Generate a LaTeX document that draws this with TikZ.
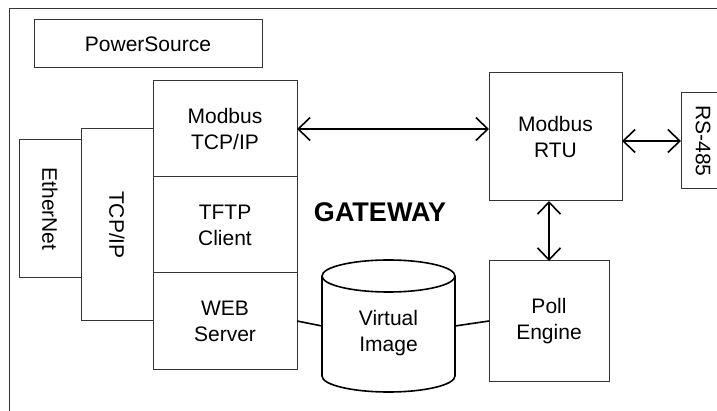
\documentclass[tikz,border=0pt]{standalone}
\usepackage{fontspec}
\setmainfont{Liberation Sans}
\usetikzlibrary{positioning}
\usetikzlibrary{arrows.meta}
\tikzset{>={Straight Barb[length=12pt,width=23pt]}}
\tikzstyle{mybox}=[draw,black!80,text=black,line width=1pt,inner sep=0pt,outer sep=0pt,
                   align=center,font=\fontsize{21}{26}\selectfont]
\tikzstyle{mydrum}=[black,line width=1.6pt]
\tikzstyle{myarrow}=[<->,black,line width=1.6pt]
\tikzstyle{myline}=[black,line width=1.6pt]

\begin{document}
\begin{tikzpicture}[x=1pt,y=-1pt]
  \clip (0,0) rectangle (717,411);
  % frame
  \draw[black!80,line width=1pt] (9,9) rectangle (740,440);

  % power
  \node[mybox,minimum width=228,minimum height=48] (power) at (148,44) {PowerSource};

  % stack
  \node[mybox,minimum width=144,minimum height=96] (tcp) at (225,129) {Modbus\\TCP/IP};
  \node[mybox,minimum width=144,minimum height=96,below=0pt of tcp] (tftp) {TFTP\\Client};
  \node[mybox,minimum width=144,minimum height=96,below=0pt of tftp] (web) {WEB\\Server};

  % layers
  \node[mybox,minimum width=72,minimum height=192] (ip) at (117,225) {\rotatebox{-90}{TCP/IP}};
  \node[mybox,minimum width=62,minimum height=138] (eth) at (50,209) {\rotatebox{-90}{EtherNet}};

  % serial side
  \node[mybox,minimum width=133,minimum height=128] (rtu) at (555.5,137) {Modbus\\RTU};
  \node[mybox,minimum width=44,minimum height=96] (rs) at (703,141) {\rotatebox{-90}{RS-485}};
  \node[mybox,minimum width=120,minimum height=120] (poll) at (549,321) {Poll\\Engine};

  % image
  \node[mybox,draw=none,minimum width=133,minimum height=132,
        label={[yshift=-7pt,align=center,font=\fontsize{21}{26}\selectfont]center:Virtual\\Image}]
        (img) at (388.5,326) {};
  \draw[mydrum] ([yshift=-16pt]img.north west) -- ([yshift=16pt]img.south west)
    arc[start angle=180,end angle=360,x radius=66.5pt,y radius=16pt]
    -- ([yshift=-16pt]img.north east);
  \draw[mydrum] ([yshift=-16pt]img.north) ellipse[x radius=66.5pt,y radius=16pt];

  % title
  \node[font=\fontsize{27}{30}\selectfont\bfseries] (gw) at (380,212) {GATEWAY};

  % ARROWS
  \draw[myarrow] (tcp.east) -- (tcp.east -| rtu.west);
  \draw[myarrow] (rs.west -| rtu.east) -- (rs.west);
  \draw[myarrow] (poll.north |- rtu.south) -- (poll.north);
  \draw[myline] (web.east) -- (img.west);
  \draw[myline] (img.east) -- (poll.west);
\end{tikzpicture}
\end{document}
